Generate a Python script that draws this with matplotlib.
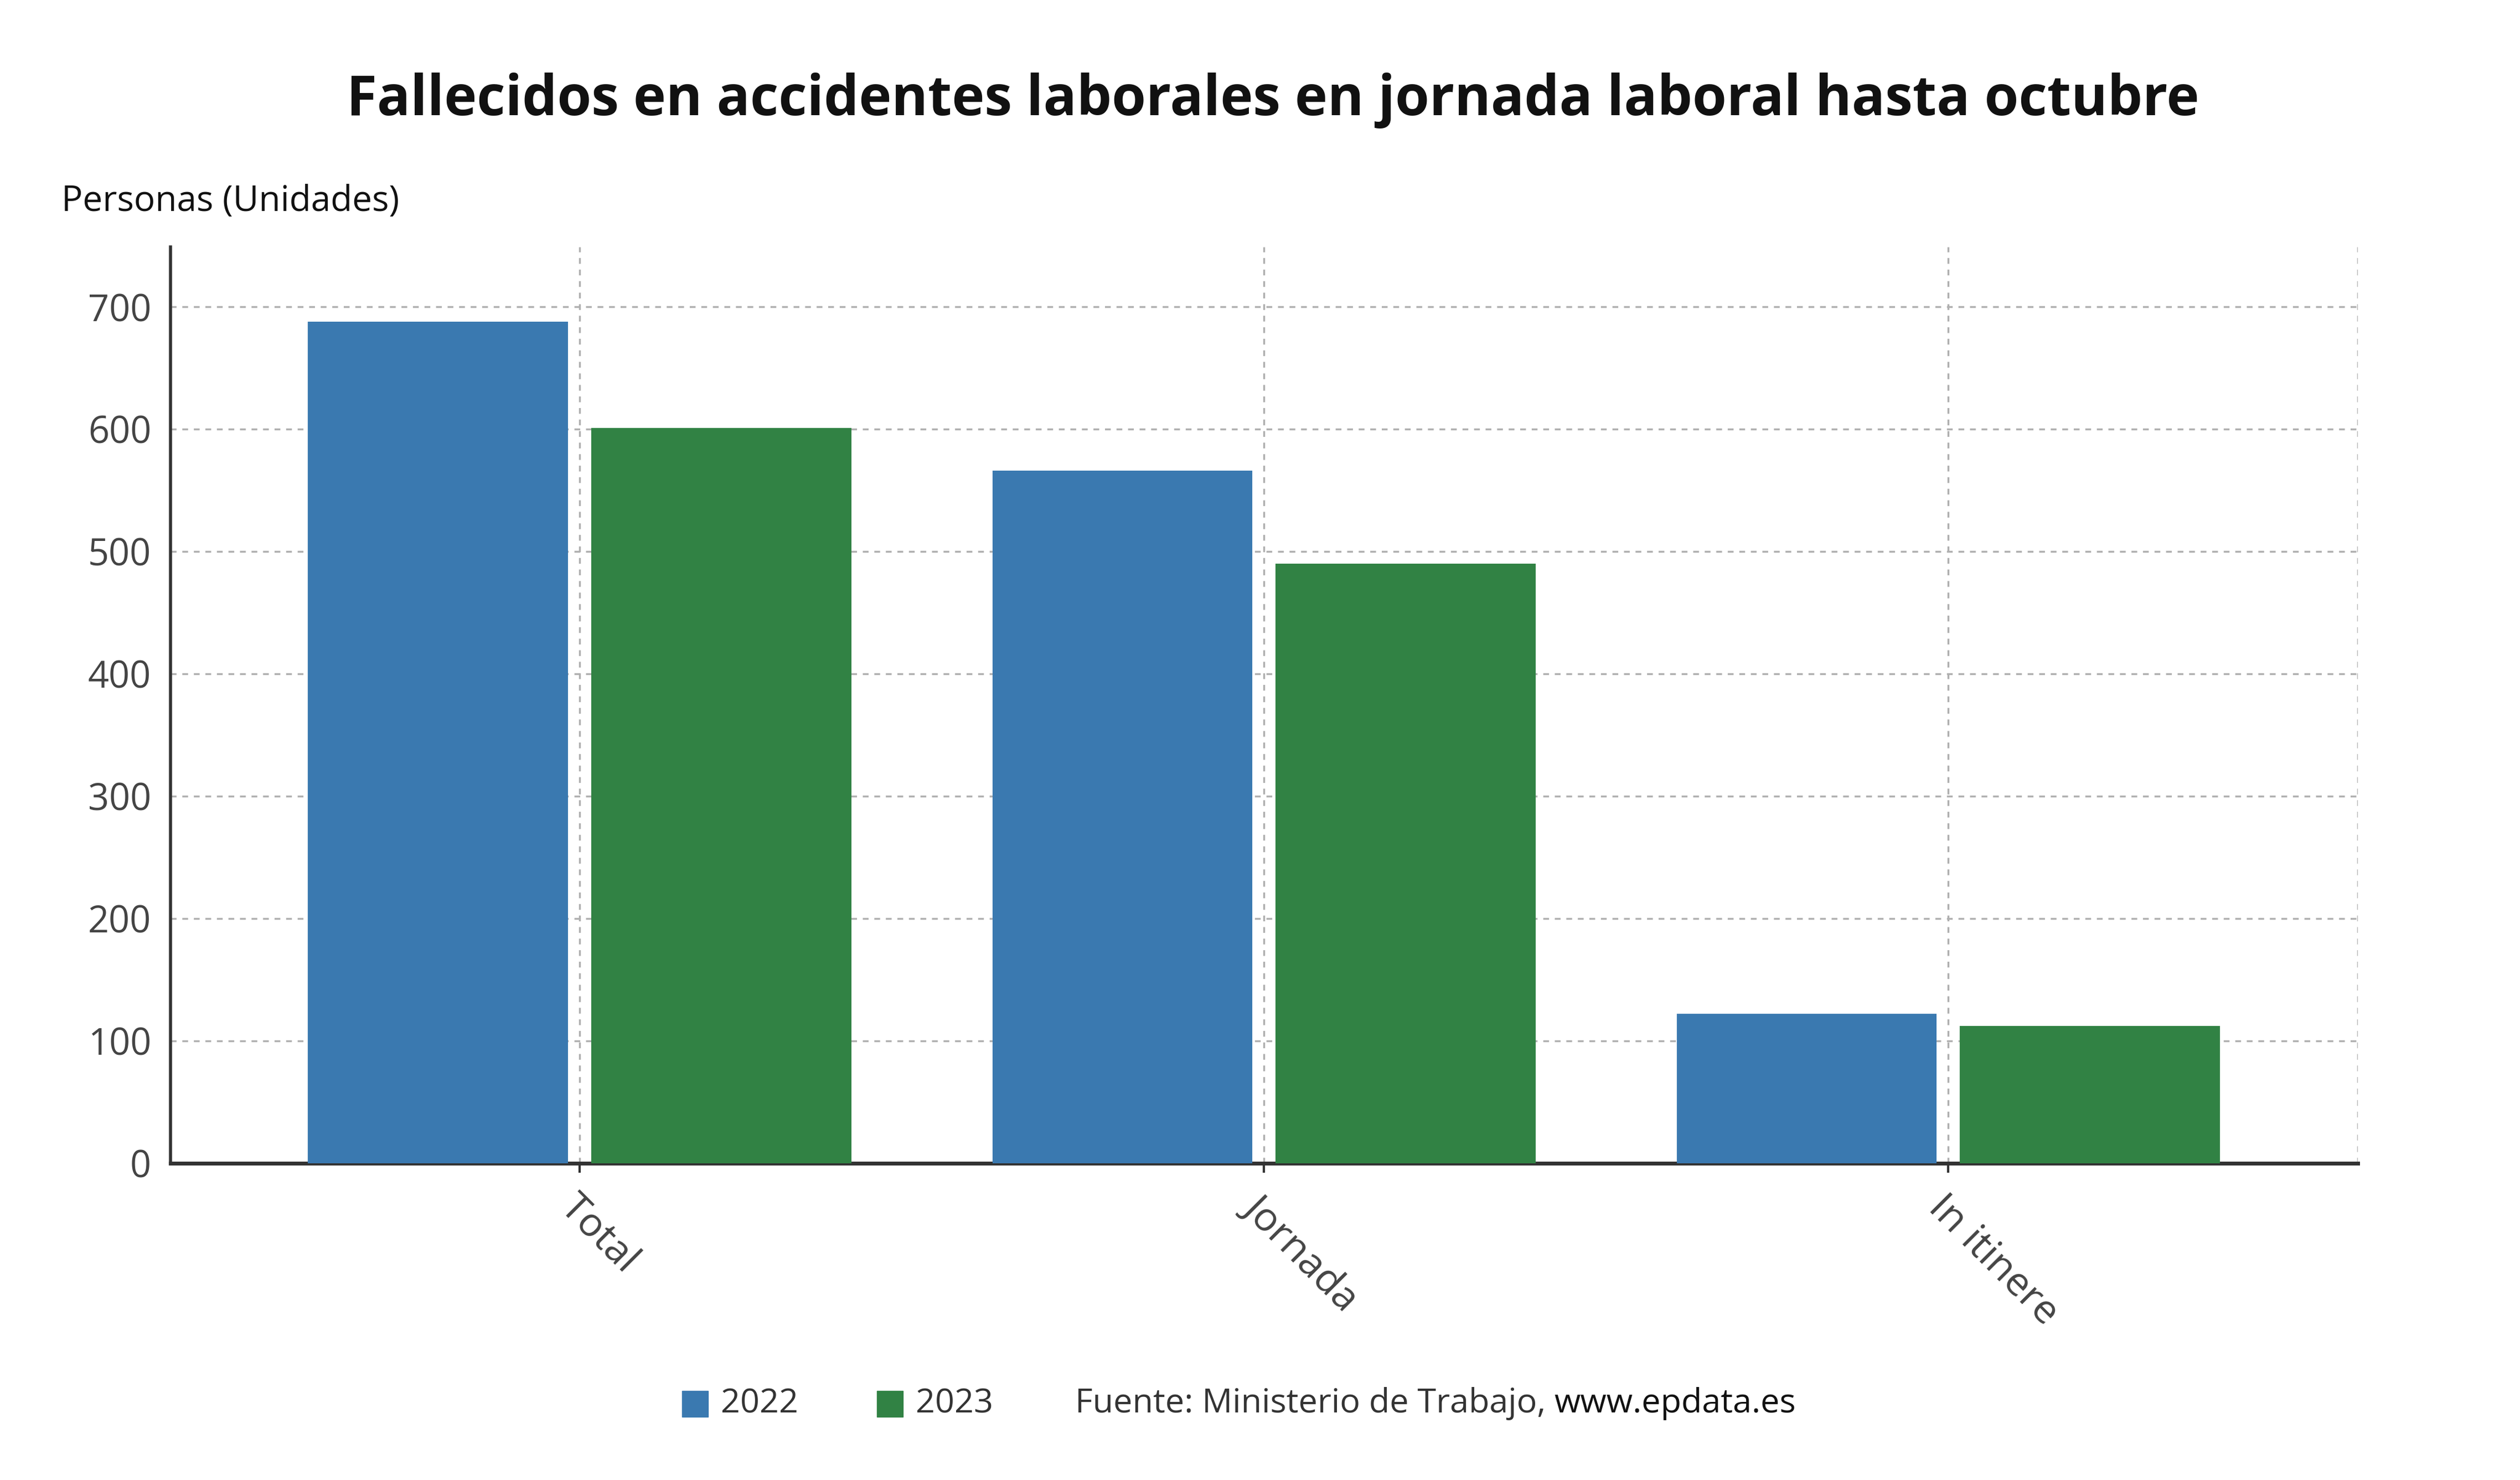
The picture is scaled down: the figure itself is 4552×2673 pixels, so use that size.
import matplotlib
matplotlib.use("Agg")
import matplotlib.pyplot as plt
from matplotlib.patches import Rectangle
from matplotlib.transforms import offset_copy
import numpy as np

categories = ["Total", "Jornada", "In itinere"]
series_names = ["2022", "2023"]
values_2022 = [688, 566, 122]
values_2023 = [601, 490, 112]
yticks = [0, 100, 200, 300, 400, 500, 600, 700]
colors = ["#3a79b0", "#318244"]

plt.rcParams["font.family"] = "Open Sans"
W, H = 4552, 2673
fig = plt.figure(figsize=(W/100, H/100), dpi=100)
ax = fig.add_axes([105/1552, 1-716/911, (1452-105)/1552, (716-152)/911])

x = np.arange(len(categories))
off, w = 0.207, 0.38
ax.bar(x - off, values_2022, w, color=colors[0], zorder=3)
ax.bar(x + off, values_2023, w, color=colors[1], zorder=3)
ax.set_xlim(-0.598, 2.598)
ax.set_ylim(0, 749)
ax.set_yticks(yticks)
ax.set_xticks(x)
ax.set_xticklabels(categories, rotation=-45, ha="left", rotation_mode="anchor")
ax.tick_params(axis="y", labelsize=48, colors="#444444", length=0, pad=25)
ax.tick_params(axis="x", labelsize=52, colors="#444444", length=12, width=3, pad=20, color="#333333")
for lab in ax.get_yticklabels() + ax.get_xticklabels():
    lab.set_fontweight("medium")
ax.grid(True, axis="both", linestyle=(0, (3, 3)), color="#b0b0b0", linewidth=2.5, zorder=0)
for s in ["top", "right"]:
    ax.spines[s].set_visible(False)
ax.axvline(2.598, linestyle=(0, (3, 3)), color="#b0b0b0", linewidth=2.5, zorder=0)
ax.spines["left"].set_linewidth(4)
ax.spines["left"].set_color("#333333")
ax.spines["bottom"].set_linewidth(5)
ax.spines["bottom"].set_color("#333333")

fig.text(0.505, 1-62/911, "Fallecidos en accidentes laborales en jornada laboral hasta octubre",
         ha="center", va="center", fontsize=72, fontweight="bold", color="#111111")
fig.text(38/1552, 1-124/911, "Personas (Unidades)", ha="left", va="center", fontsize=46,
         fontweight="medium", color="#111111")

ly = 1-864/911
sq = 16/1552
for xs, name, c in [(420, "2022", colors[0]), (540, "2023", colors[1])]:
    fig.patches.append(Rectangle((xs/1552, ly - sq*W/H/2), sq, sq*W/H, transform=fig.transFigure,
                                 color=c, figure=fig))
    fig.text((xs+24)/1552, ly, name, ha="left", va="center", fontsize=44, color="#333333",
             fontweight="medium")
t1 = fig.text(662/1552, ly, "Fuente: Ministerio de Trabajo, ", ha="left", va="center", fontsize=44,
              color="#333333", fontweight="medium")
fig.canvas.draw()
bb = t1.get_window_extent()
fig.text(bb.x1 / (W), ly, "www.epdata.es", ha="left", va="center", fontsize=44,
         color="#111111", fontweight="medium")

fig.savefig("out.png", dpi=100, facecolor="white")
